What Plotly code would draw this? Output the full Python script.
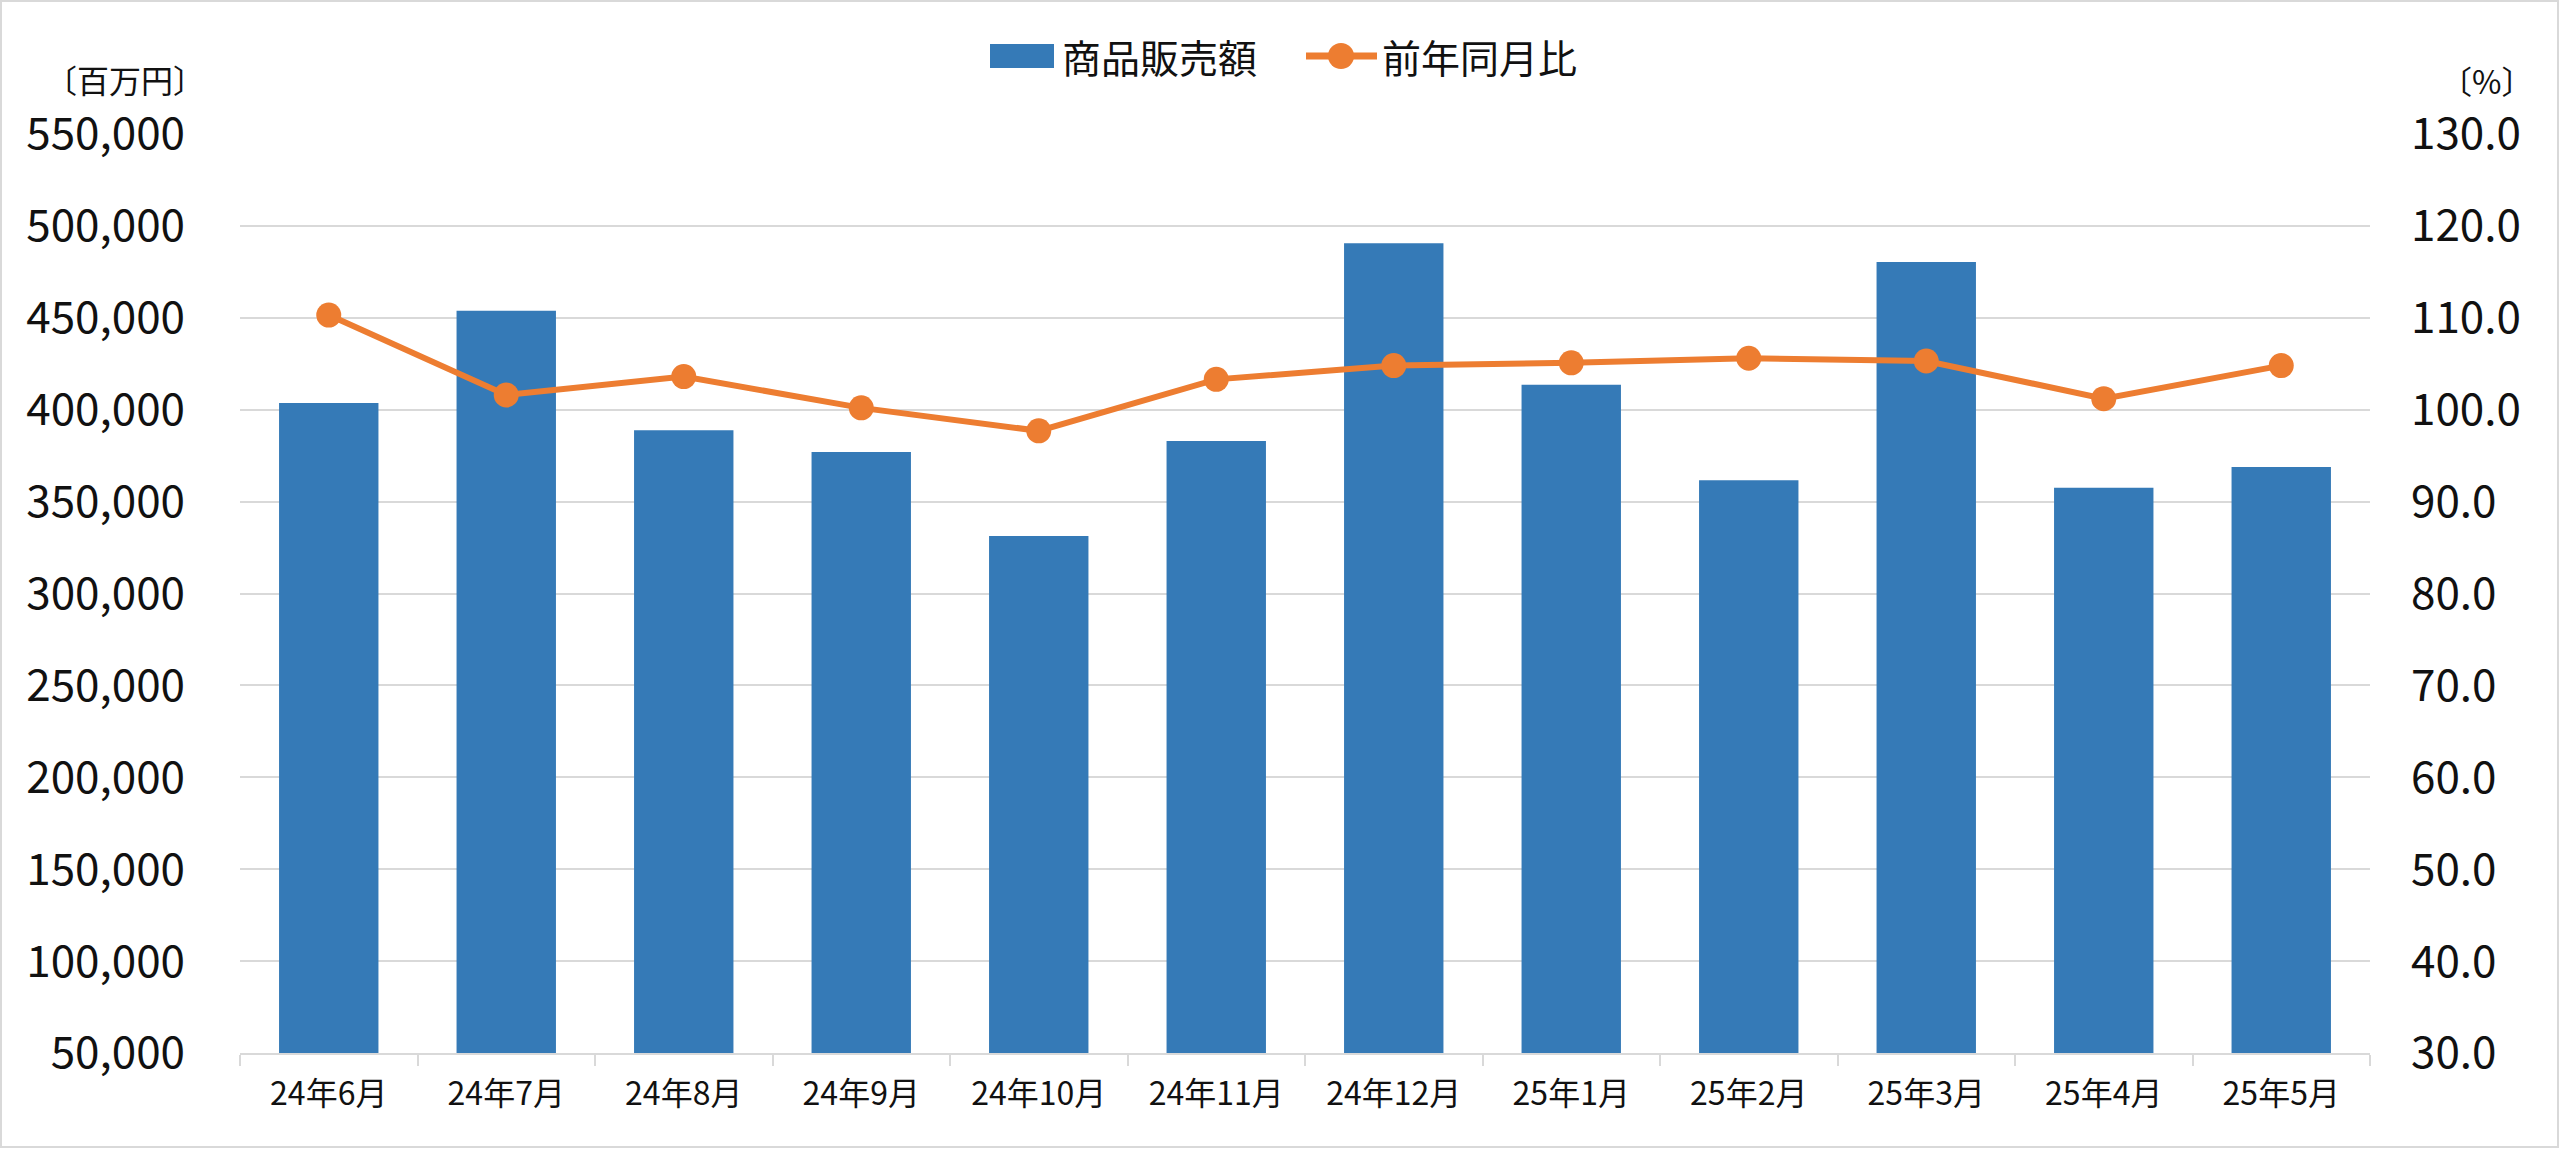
import plotly.graph_objects as go

months = ["24年6月", "24年7月", "24年8月", "24年9月", "24年10月", "24年11月",
          "24年12月", "25年1月", "25年2月", "25年3月", "25年4月", "25年5月"]
sales = [403600, 453900, 388800, 377000, 331300, 383000,
         490500, 413600, 361600, 480400, 357600, 368800]
yoy = [110.3, 101.6, 103.6, 100.2, 97.7, 103.3,
       104.8, 105.1, 105.6, 105.3, 101.2, 104.8]

left_ticks = list(range(50000, 550001, 50000))
right_ticks = list(range(30, 131, 10))

BLUE = "#357ab7"
ORANGE = "#ed7d31"
GRID = "#d9d9d9"
FONT = "Noto Sans CJK JP"
TXT = "#111111"

W, H = 2560, 1149
L, R, T, B = 240, 190, 134, 96
PW, PH = W - L - R, H - T - B


def px(x):
    return (x - L) / PW


def py(y):
    return (H - B - y) / PH


fig = go.Figure()
fig.add_trace(go.Bar(x=months, y=sales, name="商品販売額", marker_color=BLUE,
                     marker_line_width=0, yaxis="y", showlegend=False))
fig.add_trace(go.Scatter(x=months, y=yoy, name="前年同月比", mode="lines+markers",
                         line=dict(color=ORANGE, width=6),
                         marker=dict(color=ORANGE, size=25),
                         yaxis="y2", showlegend=False))

shapes = [
    # outer border
    dict(type="rect", xref="paper", yref="paper", x0=px(1), x1=px(W - 2), y0=py(H - 2), y1=py(1),
         line=dict(color=GRID, width=2), layer="below"),
    # legend swatches
    dict(type="rect", xref="paper", yref="paper", x0=px(990), x1=px(1054), y0=py(68), y1=py(44),
         fillcolor=BLUE, line=dict(width=0)),
    dict(type="line", xref="paper", yref="paper", x0=px(1306), x1=px(1377), y0=py(56), y1=py(56),
         line=dict(color=ORANGE, width=7)),
    dict(type="circle", xref="paper", yref="paper", x0=px(1328), x1=px(1354), y0=py(69), y1=py(43),
         fillcolor=ORANGE, line=dict(width=0)),
]

annotations = [
    dict(text="商品販売額", xref="paper", yref="paper", x=px(1060), y=py(56),
         xanchor="left", yanchor="middle", showarrow=False, font=dict(size=39, color=TXT, family=FONT)),
    dict(text="前年同月比", xref="paper", yref="paper", x=px(1380), y=py(56),
         xanchor="left", yanchor="middle", showarrow=False, font=dict(size=39, color=TXT, family=FONT)),
    dict(text="〔百万円〕", xref="paper", yref="paper", x=px(125), y=py(79),
         xanchor="center", yanchor="middle", showarrow=False, font=dict(size=32, color=TXT, family=FONT)),
    dict(text="〔%〕", xref="paper", yref="paper", x=px(2486), y=py(80),
         xanchor="center", yanchor="middle", showarrow=False, font=dict(size=32, color=TXT, family=FONT)),
]

fig.update_layout(
    width=W, height=H,
    margin=dict(l=L, r=R, t=T, b=B, pad=0),
    paper_bgcolor="white", plot_bgcolor="white",
    font=dict(family=FONT, color=TXT),
    bargap=0.44,
    shapes=shapes,
    annotations=annotations,
    xaxis=dict(type="category", range=[-0.5, len(months) - 0.5], showgrid=False,
               showline=True, linecolor=GRID, linewidth=2,
               ticks="outside", tickson="boundaries", ticklen=11, tickcolor=GRID, tickwidth=2,
               tickfont=dict(size=32, color=TXT, family=FONT), ticklabelstandoff=12,
               automargin=False),
    yaxis=dict(range=[50000, 550000], tickvals=left_ticks, tickformat=",", showgrid=True,
               gridcolor=GRID, gridwidth=2, zeroline=False, showline=False, ticks="",
               tickfont=dict(size=44, color=TXT, family=FONT), ticklabelstandoff=54,
               automargin=False),
    yaxis2=dict(range=[30, 130], tickvals=right_ticks, tickformat=".1f", overlaying="y",
                side="right", showgrid=False, zeroline=False, showline=False, ticks="",
                tickfont=dict(size=44, color=TXT, family=FONT), ticklabelstandoff=40,
                automargin=False),
)

fig.write_html("out.html", config={"displayModeBar": False},
               post_script="document.body.style.margin='0';document.body.style.overflow='hidden';")
